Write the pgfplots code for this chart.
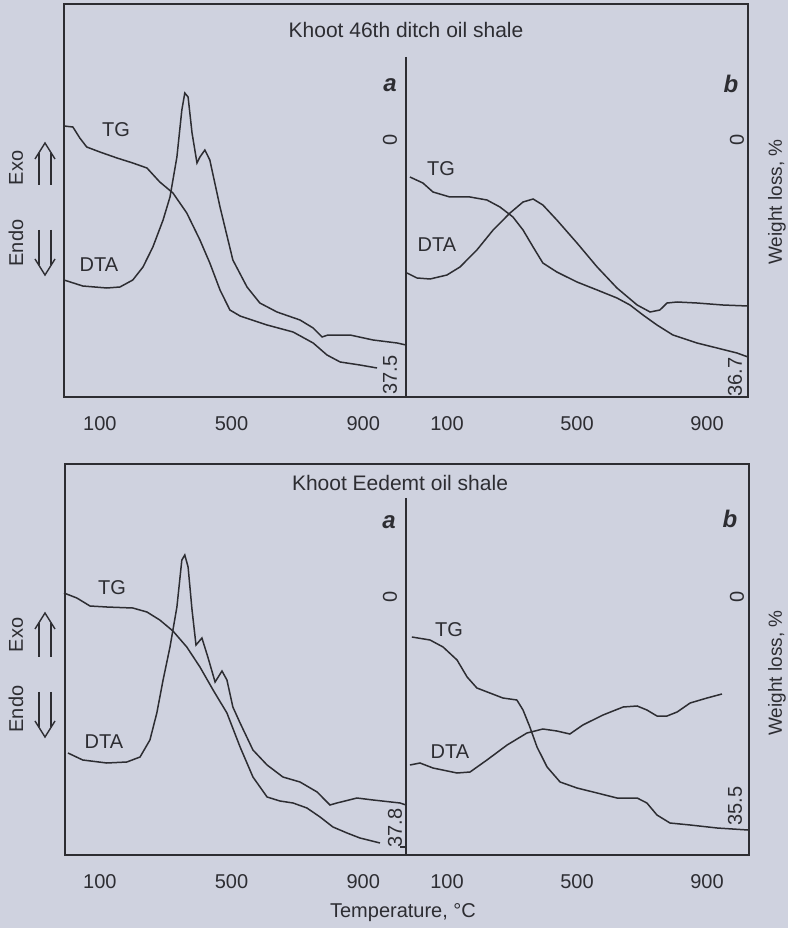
\documentclass[border=0pt]{standalone}
\usepackage{fontspec}
\setmainfont{Liberation Sans}
\usepackage{pgfplots}
\pgfplotsset{compat=1.18}

\definecolor{bg}{RGB}{207,210,223}
\definecolor{ink}{RGB}{45,45,50}

% one panel of the figure; y is measured in scan pixels (downwards)
\pgfplotsset{panel/.style={
  scale only axis, anchor=south west, width=171pt,
  axis line style={draw=none}, tick style={draw=none},
  y dir=reverse, ytick=\empty,
  xtick={100,500,900},
  xticklabel style={font=\fontsize{10}{12}\selectfont, text=ink},
  xticklabel shift=6pt,
  /pgf/number format/assume math mode=true,
  clip=false,
  every axis plot post/.append style={ink, line width=0.75pt, mark=none},
}}

\newcommand{\uparr}[3]{%
  \draw[ink, line width=0.7pt] (#1-10,#2+16) -- (#1,#2) -- (#1+10,#2+16);
  \draw[ink, line width=0.7pt] (#1-6,#2+9.6) -- (#1-6,#3) (#1+6,#2+9.6) -- (#1+6,#3);}
\newcommand{\dnarr}[3]{%
  \draw[ink, line width=0.7pt] (#1-10,#3-16) -- (#1,#3) -- (#1+10,#3-16);
  \draw[ink, line width=0.7pt] (#1-6,#2) -- (#1-6,#3-9.6) (#1+6,#2) -- (#1+6,#3-9.6);}

\begin{document}
\begin{tikzpicture}
\fill[bg] (0,0) rectangle (394pt,464pt);

% ---- Khoot 46th ditch, a
\begin{axis}[panel, at={(32pt,265.5pt)}, height=196.5pt,
  xmin=-9, xmax=1030, ymin=4, ymax=397]
\addplot coordinates {(-9,126) (18,127) (39,138) (60,147) (100,152) (152,158) (200,163)
  (243,168) (282,182) (322,193) (364,213) (404,240) (434,263) (465,290) (495,310)
  (526,316) (608,325) (687,332) (748,343) (790,355) (830,362) (890,365) (942,368)};
\addplot coordinates {(-9,280) (48,286) (121,288) (161,287) (200,280) (231,267) (261,247)
  (292,220) (313,197) (334,157) (349,110) (358,93) (368,97) (380,133) (395,163)
  (404,157) (419,150) (434,160) (465,207) (504,260) (547,287) (586,303) (638,312)
  (708,320) (748,328) (775,337) (793,335) (860,335) (930,340) (1003,343) (1030,345)};
\end{axis}

% ---- Khoot 46th ditch, b
\begin{axis}[panel, at={(203pt,265.5pt)}, height=196.5pt,
  xmin=-26, xmax=1026, ymin=4, ymax=397]
\addplot coordinates {(-14,177) (26,183) (57,192) (109,197) (171,197) (223,200) (263,207)
  (303,217) (334,230) (365,247) (395,263) (438,272) (500,282) (562,290) (623,298)
  (663,305) (703,315) (746,325) (795,335) (869,343) (931,348) (992,353) (1026,357)};
\addplot coordinates {(-23,273) (8,278) (48,279) (100,275) (140,267) (192,250) (242,230)
  (294,213) (334,202) (365,199) (395,205) (438,220) (500,243) (562,267) (623,288)
  (685,305) (725,312) (755,310) (777,303) (808,302) (869,303) (949,305) (1026,306)};
\end{axis}

% ---- Khoot Eedemt, a
\begin{axis}[panel, at={(32pt,36.5pt)}, height=195.5pt,
  xmin=-9, xmax=1030, ymin=464, ymax=855]
\addplot coordinates {(-9,593) (30,598) (70,606) (121,607) (200,608) (243,612) (282,620)
  (322,631) (364,647) (404,667) (444,690) (486,713) (526,747) (565,777) (608,797)
  (647,801) (687,803) (729,808) (769,817) (808,827) (851,833) (890,838) (951,843)};
\addplot coordinates {(3,753) (48,760) (121,763) (182,762) (222,757) (252,740) (273,713)
  (292,680) (313,647) (334,607) (349,560) (358,555) (368,567) (380,610) (392,645)
  (410,638) (428,657) (450,682) (471,671) (486,680) (504,707) (526,723) (565,750)
  (608,765) (656,777) (708,782) (760,792) (799,805) (820,803) (881,798) (930,800)
  (1012,803) (1030,805)};
\end{axis}

% ---- Khoot Eedemt, b
\begin{axis}[panel, at={(203pt,36.5pt)}, height=195.5pt,
  xmin=-26, xmax=1026, ymin=464, ymax=855]
\addplot coordinates {(-8,637) (48,640) (88,647) (131,660) (162,677) (192,688) (232,693)
  (272,698) (315,700) (334,710) (355,727) (377,747) (408,767) (448,782) (500,788)
  (562,793) (623,798) (685,798) (715,803) (746,815) (786,823) (848,825) (931,828)
  (1026,830)};
\addplot coordinates {(-14,765) (17,763) (57,768) (131,773) (171,772) (223,760) (285,745)
  (346,733) (395,729) (438,731) (478,734) (518,725) (580,715) (642,707) (685,706)
  (715,710) (746,716) (777,716) (808,712) (848,703) (900,698) (946,694)};
\end{axis}

% frames and annotations, in scan pixel coordinates
\begin{scope}[x=0.5pt, y=-0.5pt, shift={(0pt,464pt)},
  every node/.style={text=ink, font=\fontsize{10}{12}\selectfont}]
  \draw[ink, line width=0.8pt] (64,4) rectangle (748,397);
  \draw[ink, line width=0.8pt] (406,57) -- (406,397);
  \draw[ink, line width=0.8pt] (65,464) rectangle (749,855);
  \draw[ink, line width=0.8pt] (406,498) -- (406,855);
  \draw[ink, line width=0.7pt] (400,847) -- (406,847);

  \node[font=\fontsize{10.5}{12}\selectfont] at (406,30) {Khoot 46th ditch oil shale};
  \node[font=\fontsize{10.5}{12}\selectfont] at (400,483) {Khoot Eedemt oil shale};
  \node at (403,913) {Temperature, °C};

  \node[font=\bfseries\itshape\fontsize{12}{14}\selectfont] at (390,85) {a};
  \node[font=\bfseries\itshape\fontsize{12}{14}\selectfont] at (731,84) {b};
  \node[font=\bfseries\itshape\fontsize{12}{14}\selectfont] at (389,522) {a};
  \node[font=\bfseries\itshape\fontsize{12}{14}\selectfont] at (730,519) {b};

  \node at (116,130) {TG};  \node at (99,265) {DTA};
  \node at (441,169) {TG};  \node at (437,245) {DTA};
  \node at (112,588) {TG};  \node at (104,742) {DTA};
  \node at (449,630) {TG};  \node at (450,752) {DTA};

  \node[rotate=90] at (390,140) {0};
  \node[rotate=90] at (737,140) {0};
  \node[rotate=90] at (390,375) {37.5};
  \node[rotate=90] at (735,377) {36.7};
  \node[rotate=90] at (390,597) {0};
  \node[rotate=90] at (737,597) {0};
  \node[rotate=90] at (395,828) {37.8};
  \node[rotate=90] at (735,806) {35.5};

  \node[rotate=90, font=\fontsize{9.5}{11}\selectfont] at (777,202) {Weight loss, \%};
  \node[rotate=90, font=\fontsize{9.5}{11}\selectfont] at (777,673) {Weight loss, \%};

  \node[rotate=90] at (16,168) {Exo};
  \node[rotate=90] at (16,243) {Endo};
  \node[rotate=90] at (16,635) {Exo};
  \node[rotate=90] at (16,709) {Endo};
  \uparr{45}{143}{185}
  \dnarr{45}{230}{275}
  \uparr{45}{613}{657}
  \dnarr{45}{692}{737}
\end{scope}

\pgfresetboundingbox
\path[use as bounding box] (0,0) rectangle (394pt,464pt);
\end{tikzpicture}
\end{document}
